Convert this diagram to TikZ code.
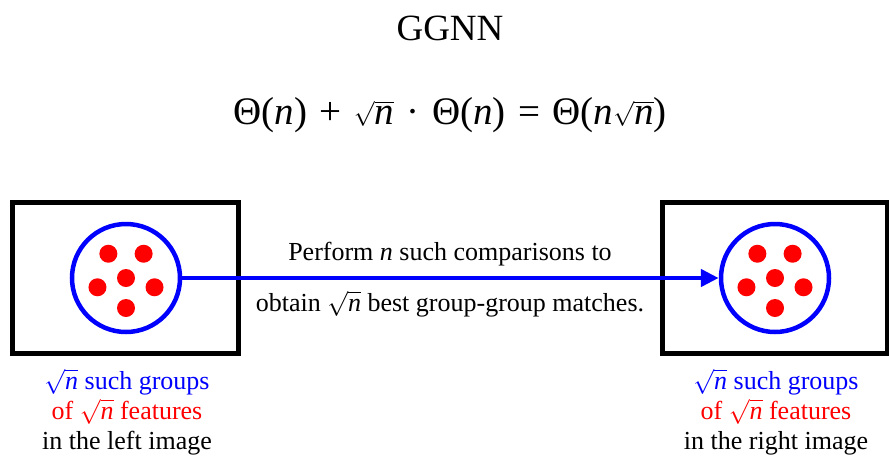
\documentclass[tikz,border=0pt]{standalone}
\usepackage{fontspec}
\setmainfont{Liberation Serif}
\usetikzlibrary{arrows.meta,calc}
% italic n in the text face, and its square root
\newcommand{\vn}{\textit{n}}
\newcommand{\rootn}{$\sqrt{\mbox{\vn}}$}
\newcommand{\opsep}{\hspace{0.32em}}
\begin{document}
\begin{tikzpicture}[x=1pt,y=-1pt,
  imgbox/.style={draw=black,line width=5pt},
  group/.style={draw=blue,line width=4.5pt,circle,minimum size=108pt,inner sep=0pt},
  feat/.style={fill=red,circle,minimum size=18pt,inner sep=0pt},
  link/.style={draw=blue,line width=4.5pt,-{Triangle[length=18pt,width=17pt]}},
  lbl/.style={font=\fontsize{26}{30}\selectfont,align=center,inner sep=0pt},
  big/.style={font=\fontsize{37}{44}\selectfont},
  formula/.style={font=\fontsize{39}{46}\selectfont}]
\useasboundingbox (0,0) rectangle (889,459);
% title and cost
\node[big,anchor=base] (title) at (450,40) {GGNN};
\node[formula,anchor=base] (cost) at (450,124)
  {Θ(\vn)\opsep+\opsep\rootn\opsep·\opsep Θ(\vn)\opsep=\opsep Θ(\vn\rootn)};
% the two images
\draw[imgbox] (12.5,202.5) rectangle (238,353);
\draw[imgbox] (662,202.5) rectangle (887,353);
% groups of features
\node[group] (gl) at (126,278) {};
\node[group] (gr) at (775,278) {};
\foreach \g in {gl,gr}{
  \node[feat] (\g c) at (\g) {};
  \foreach \a [count=\i] in {-90,-18,54,126,198}
    \node[feat] (\g\i) at ($(\g)+(\a:30pt)$) {};
}
% matching arrow
\draw[link] (gl) -- (gr);
\node[lbl,anchor=base] (t1) at (450,260) {Perform \vn{} such comparisons to};
\node[lbl,anchor=base] (t2) at (450,311) {obtain \rootn{} best group-group matches.};
% captions, one line per node
\node[lbl,anchor=base,text=blue] (l1) at (127,389) {\rootn{} such groups};
\node[lbl,anchor=base,text=red]  (l2) at (127,419) {of \rootn{} features};
\node[lbl,anchor=base]           (l3) at (127,449) {in the left image};
\node[lbl,anchor=base,text=blue] (r1) at (776,389) {\rootn{} such groups};
\node[lbl,anchor=base,text=red]  (r2) at (776,419) {of \rootn{} features};
\node[lbl,anchor=base]           (r3) at (776,449) {in the right image};
\end{tikzpicture}
\end{document}
